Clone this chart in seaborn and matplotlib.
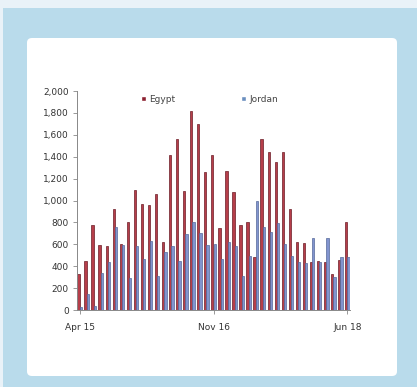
import matplotlib
matplotlib.use("Agg")
import matplotlib.pyplot as plt
from matplotlib.patches import Rectangle, FancyBboxPatch
import seaborn as sns
import pandas as pd

# Monthly arrivals, April 2015 to June 2018
months = [d.strftime("%b %y") for d in pd.date_range("2015-04-01", "2018-06-01", freq="MS")]
egypt = [330, 450, 775, 590, 580, 920, 600, 800, 1100, 970, 960, 1060, 620,
         1420, 1560, 1090, 1820, 1700, 1260, 1420, 745, 1270, 1080, 780, 800,
         480, 1560, 1440, 1350, 1440, 920, 620, 610, 440, 450, 440, 330, 460, 800]
jordan = [30, 150, 40, 340, 440, 760, 590, 290, 580, 470, 630, 310, 530,
          580, 450, 690, 800, 700, 590, 600, 470, 620, 580, 310, 490,
          1000, 760, 710, 790, 600, 490, 440, 430, 660, 440, 660, 300, 480, 480]
countries = ["Egypt", "Jordan"]
tick_labels = ["Apr 15", "Nov 16", "Jun 18"]
tick_months = ["Apr 15", "Nov 16", "Jun 18"]
y_ticks = [0, 200, 400, 600, 800, 1000, 1200, 1400, 1600, 1800, 2000]

df = pd.DataFrame({
    "month": months * 2,
    "country": ["Egypt"] * len(months) + ["Jordan"] * len(months),
    "value": egypt + jordan,
})

sns.set_theme(style="white")
plt.rcParams["font.family"] = ["DejaVu Sans"]

W, H = 417, 387
fig = plt.figure(figsize=(W / 100, H / 100), dpi=100)
fig.patch.set_facecolor("#e9f2f8")

# Blue frame and white rounded panel behind the chart
fig.patches.append(Rectangle((3 / W, 0), 1 - 3 / W, 1 - 8 / H, transform=fig.transFigure,
                             facecolor="#b9dbeb", edgecolor="none", zorder=-5))
fig.patches.append(FancyBboxPatch((27 / W, 11 / H), (397 - 27) / W, (376 - 38) / H,
                                  boxstyle="round,pad=0,rounding_size=0.012",
                                  transform=fig.transFigure, facecolor="white",
                                  edgecolor="none", zorder=-4))

ax = fig.add_axes([77 / W, 1 - 310 / H, (350 - 77) / W, (310 - 91) / H])
ax.set_facecolor("none")
ax.set_zorder(5)

palette = {"Egypt": "#b63e4a", "Jordan": "#8294cf"}
sns.barplot(data=df, x="month", y="value", hue="country", hue_order=countries,
            order=months, palette=palette, width=0.66, ax=ax, saturation=1,
            edgecolor="none", legend=True)

edge = {"Egypt": "#6b1c26", "Jordan": "#55699a"}
for cont, name in zip(ax.containers, countries):
    for bar in cont:
        bar.set_edgecolor(edge[name])
        bar.set_linewidth(0.5)

ax.set_xlim(-0.38, len(months) - 0.62)
ax.set_ylim(0, 2000)
ax.set_yticks(y_ticks)
ax.set_yticklabels([f"{v:,}" for v in y_ticks], fontsize=6.5, color="#333333")
ax.set_xticks([months.index(m) for m in tick_months])
ax.set_xticklabels(tick_labels, fontsize=6.5, color="#333333")
ax.set_xlabel("")
ax.set_ylabel("")
ax.tick_params(axis="x", length=3, width=0.6, color="#888888", pad=6, direction="out", bottom=True)
ax.tick_params(axis="y", length=3, width=0.6, color="#888888", pad=3, direction="out", left=True)

for side in ["top", "right"]:
    ax.spines[side].set_visible(False)
for side in ["left", "bottom"]:
    ax.spines[side].set_color("#888888")
    ax.spines[side].set_linewidth(0.7)

leg_handles = [Rectangle((0, 0), 1, 1, facecolor="#8c2030"),
               Rectangle((0, 0), 1, 1, facecolor="#6a8fbf")]
ax.legend(leg_handles, countries, loc="upper center", bbox_to_anchor=(0.485, 1.02),
          ncol=2, frameon=False, fontsize=6.5, handlelength=0.6, handleheight=0.6,
          handletextpad=0.3, columnspacing=7.3, labelcolor="#444444")

fig.savefig("out.png", dpi=100, facecolor=fig.get_facecolor())
